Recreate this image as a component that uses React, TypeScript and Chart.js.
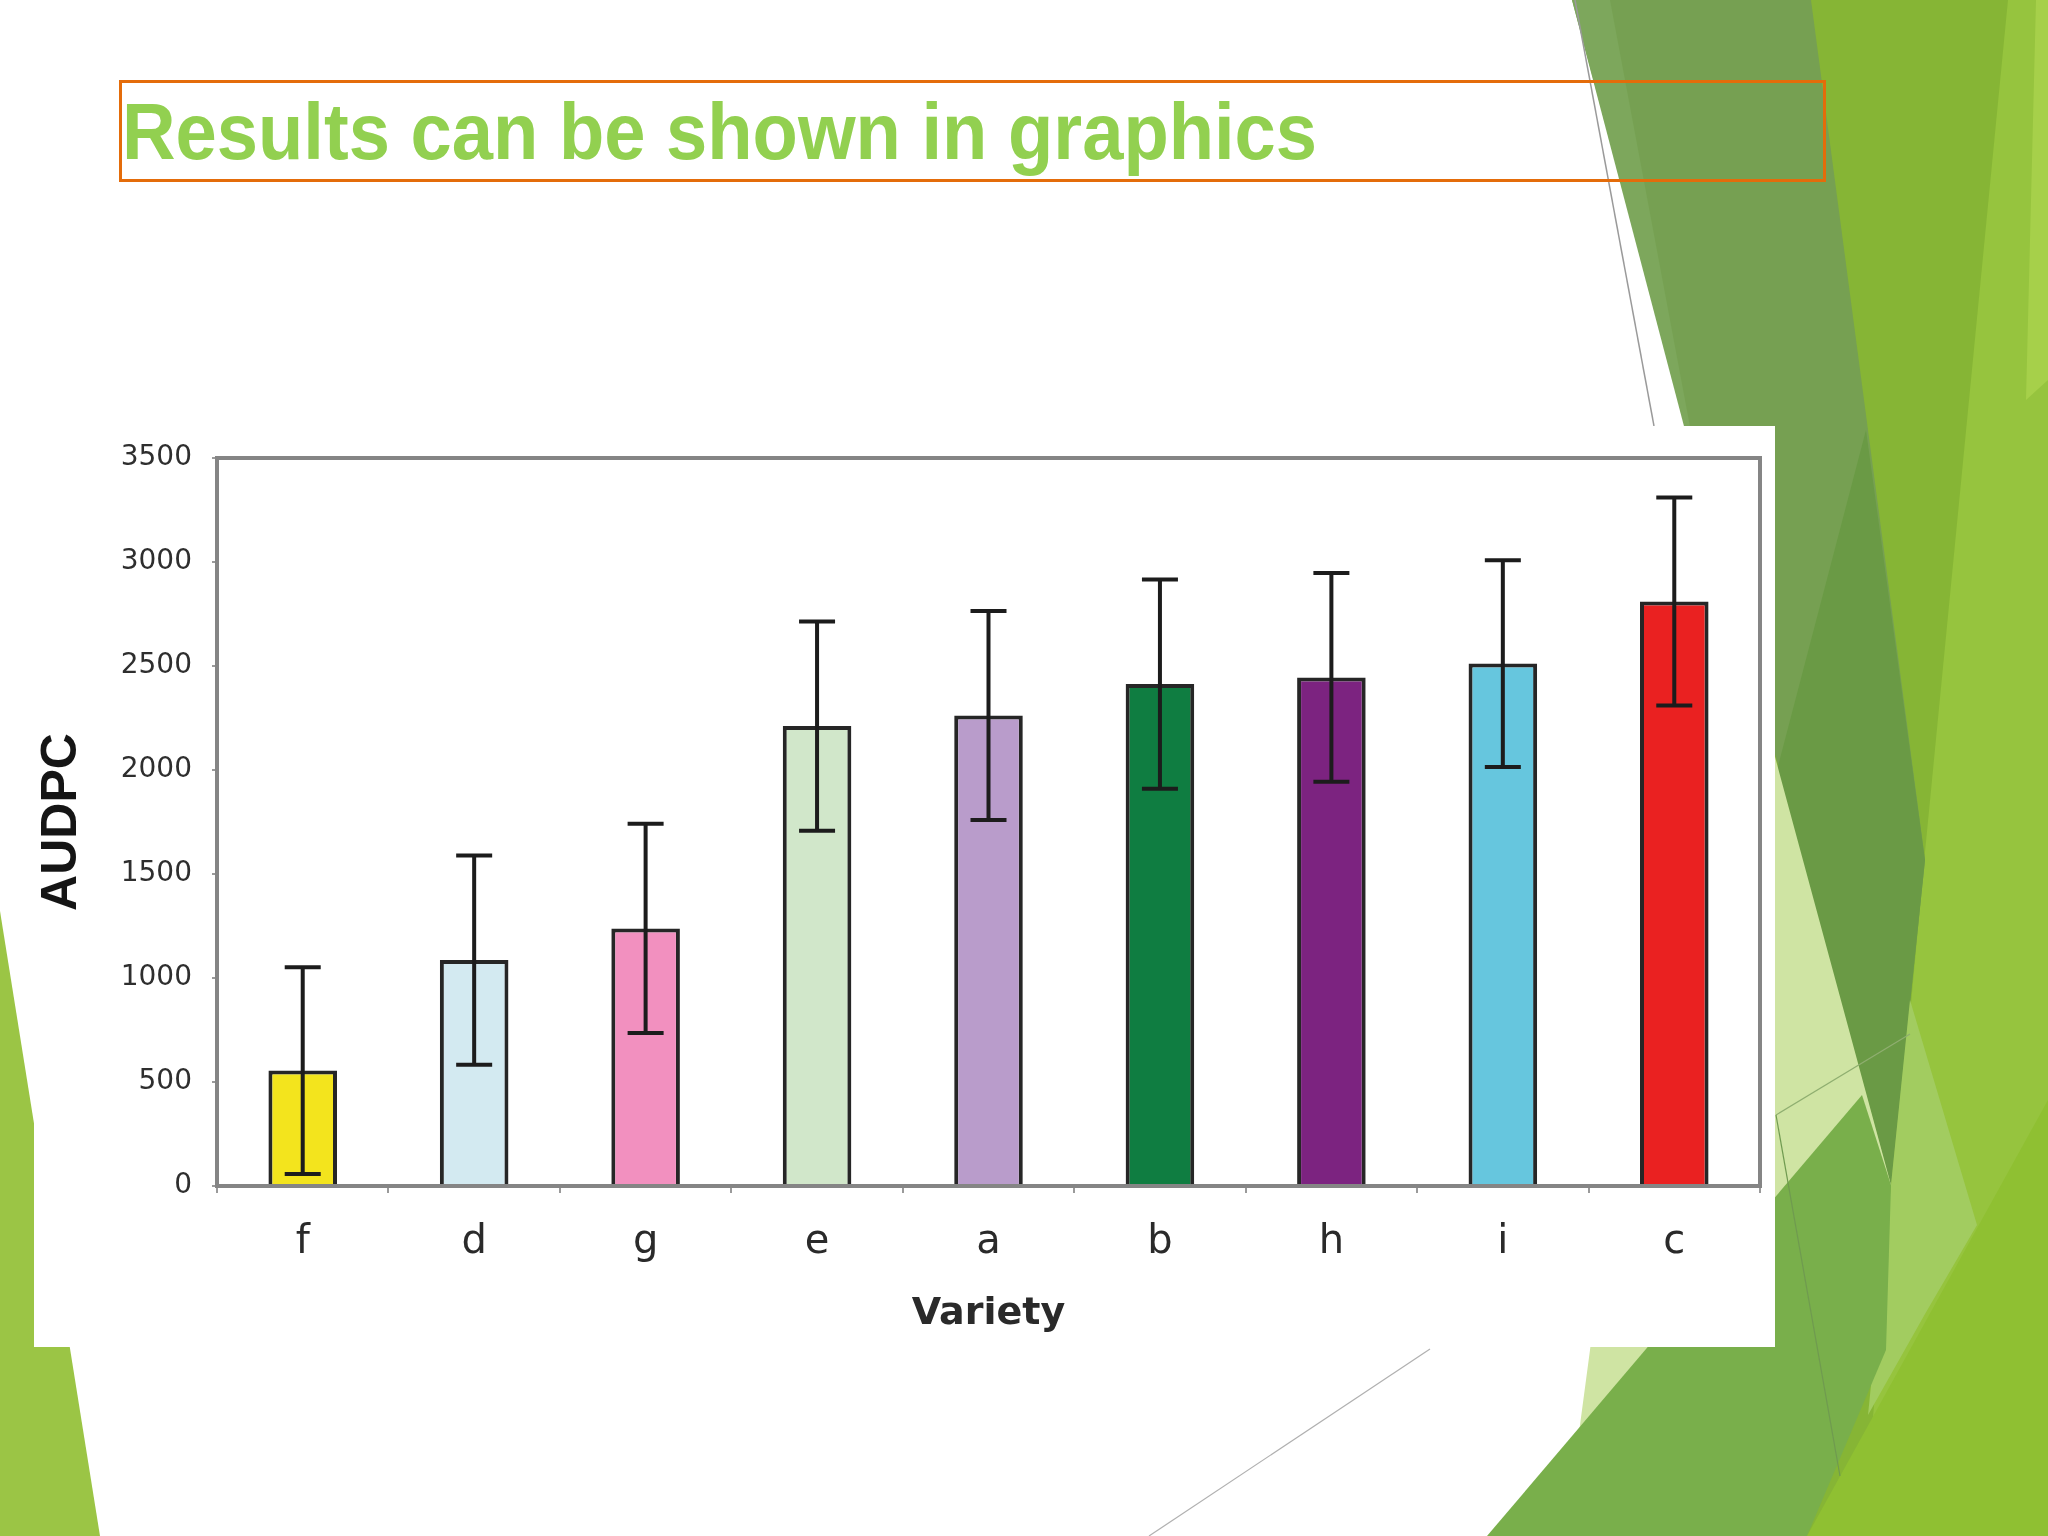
import React, { useEffect, useRef } from "react";
import { Chart, registerables } from "chart.js";

Chart.register(...registerables);

// ---- data ----
const categories = ["f", "d", "g", "e", "a", "b", "h", "i", "c"];
const audpcMeans = [555, 1086, 1238, 2211, 2262, 2413, 2445, 2512, 2810];
const audpcErrors = [497, 503, 503, 503, 502, 503, 502, 497, 500];
const barColors = [
  "#F3E41D",
  "#D3EAF1",
  "#F290BF",
  "#D1E7CA",
  "#B99CCB",
  "#0F7D41",
  "#7C2380",
  "#66C6DE",
  "#EA2121",
];
const yMin = 0;
const yMax = 3500;
const yStep = 500;
const titleText = "Results can be shown in graphics";
const xTitle = "Variety";
const yTitle = "AUDPC";

const errorBarPlugin = {
  id: "errorBarsAndFrame",
  afterDatasetsDraw(chart: any) {
    const ctx = chart.ctx;
    const yScale = chart.scales.y;
    const meta = chart.getDatasetMeta(0);
    ctx.save();
    ctx.strokeStyle = "#1c1c1c";
    ctx.lineWidth = 4;
    meta.data.forEach((bar: any, i: number) => {
      const v = audpcMeans[i];
      const e = audpcErrors[i];
      const x = bar.x;
      const yTop = yScale.getPixelForValue(v + e);
      const yBot = yScale.getPixelForValue(v - e);
      const cap = 18;
      ctx.beginPath();
      ctx.moveTo(x, yTop);
      ctx.lineTo(x, yBot);
      ctx.moveTo(x - cap, yTop);
      ctx.lineTo(x + cap, yTop);
      ctx.moveTo(x - cap, yBot);
      ctx.lineTo(x + cap, yBot);
      ctx.stroke();
    });
    const a = chart.chartArea;
    ctx.strokeStyle = "#858585";
    ctx.lineWidth = 4;
    ctx.strokeRect(a.left, a.top, a.right - a.left, a.bottom - a.top);
    ctx.restore();
  },
};

function BarChart() {
  const ref = useRef<HTMLCanvasElement | null>(null);
  useEffect(() => {
    if (!ref.current) return;
    const chart = new Chart(ref.current, {
      type: "bar",
      data: {
        labels: categories,
        datasets: [
          {
            data: audpcMeans,
            backgroundColor: barColors,
            borderColor: "#262626",
            borderWidth: 4,
            barPercentage: 0.4,
            categoryPercentage: 1.0,
          },
        ],
      },
      options: {
        responsive: false,
        animation: false,
        devicePixelRatio: 1,
        layout: { padding: { top: 32, right: 15, left: 0, bottom: 0 } },
        plugins: {
          legend: { display: false },
          tooltip: { enabled: false },
        },
        scales: {
          x: {
            grid: {
              display: true,
              drawOnChartArea: false,
              drawTicks: true,
              tickLength: 7,
              color: "#9a9a9a",
              lineWidth: 2,
              offset: true,
            },
            border: { display: false },
            ticks: {
              color: "#2a2a2a",
              font: { family: "DejaVu Sans", size: 40 },
              padding: 26,
            },
            title: {
              display: true,
              text: xTitle,
              color: "#2a2a2a",
              font: { family: "DejaVu Sans", size: 38, weight: "bold" },
              padding: { top: 0, bottom: 10 },
            },
            afterFit: (s: any) => {
              s.height = 161;
              s.paddingLeft = 0;
              s.paddingRight = 0;
            },
          },
          y: {
            min: yMin,
            max: yMax,
            grid: {
              drawOnChartArea: false,
              drawTicks: true,
              tickLength: 5,
              color: "#9a9a9a",
              lineWidth: 2,
            },
            border: { display: false },
            ticks: {
              stepSize: yStep,
              callback: (v: any) => String(v),
              color: "#2e2e2e",
              font: { family: "DejaVu Sans", size: 28 },
              padding: 20,
            },
            title: {
              display: true,
              text: yTitle,
              color: "#151515",
              font: { family: "Liberation Sans", size: 50, weight: "bold", lineHeight: 1 },
              padding: { top: 3, bottom: 0 },
            },
            afterFit: (s: any) => {
              s.width = 183;
              s.paddingTop = 0;
              s.paddingBottom = 0;
            },
          },
        },
      } as any,
      plugins: [errorBarPlugin],
    });
    return () => chart.destroy();
  }, []);
  return <canvas ref={ref} width={1741} height={921} style={{ display: "block", width: 1741, height: 921 }} />;
}

function Background() {
  const poly = (pts: number[][]) => pts.map((p) => p.join(",")).join(" ");
  return (
    <svg
      width={2048}
      height={1536}
      style={{ position: "absolute", left: 0, top: 0 }}
      viewBox="0 0 2048 1536"
    >
      <rect x={0} y={0} width={2048} height={1536} fill="#ffffff" />
      {/* left wedge */}
      <polygon points={poly([[0, 911], [100, 1536], [0, 1536]])} fill="#9BC545" />
      {/* right decorations */}
      <polygon points={poly([[1811, 0], [2048, 0], [2048, 1536], [1600, 1536]])} fill="#86B535" />
      <polygon points={poly([[2008, 0], [2048, 0], [2048, 1536], [1862, 1536], [1925, 852]])} fill="#96C43E" />
      <polygon points={poly([[2036, 0], [2048, 0], [2048, 380], [2026, 400]])} fill="#A6D04A" />
      <polygon points={poly([[1572, 0], [1811, 0], [1925, 860], [1891, 1185]])} fill="#76A052" />
      <polygon points={poly([[1572, 0], [1610, 0], [1700, 480], [1685, 430]])} fill="#7DA75C" />
      <polygon points={poly([[1866, 430], [1925, 860], [1891, 1185], [1777, 770]])} fill="#6A9A45" />
      <polygon points={poly([[1700, 480], [1891, 1185], [1578, 1440], [1590, 1350]])} fill="#CFE4A3" />
      <polygon points={poly([[1910, 1000], [1977, 1225], [1925, 1314], [1868, 1415], [1891, 1185]])} fill="#A2CC60" />
      <polygon points={poly([[1487, 1536], [1862, 1095], [1891, 1185], [1886, 1350], [1807, 1536]])} fill="#79AF4B" />
      <polygon points={poly([[1807, 1536], [2048, 1100], [2048, 1536]])} fill="#8FC032" />
      {/* thin lines */}
      <line x1={1575} y1={0} x2={1654} y2={426} stroke="#9a9a9a" strokeWidth={1.5} />
      <line x1={1149} y1={1536} x2={1430} y2={1349} stroke="#b0b0b0" strokeWidth={1.2} />
      <line x1={1776} y1={1115} x2={1910} y2={1034} stroke="#8fae70" strokeWidth={1.2} />
      <line x1={1776} y1={1115} x2={1840} y2={1476} stroke="#6f9a50" strokeWidth={1.2} />
    </svg>
  );
}

export default function App() {
  return (
    <div
      style={{
        position: "absolute",
        left: 0,
        top: 0,
        width: 2048,
        height: 1536,
        overflow: "hidden",
        background: "#ffffff",
      }}
    >
      <Background />
      <div
        style={{
          position: "absolute",
          left: 119,
          top: 80,
          width: 1707,
          height: 102,
          boxSizing: "border-box",
          border: "3px solid #E46C0A",
        }}
      />
      <div
        style={{
          position: "absolute",
          left: 122,
          top: 92,
          fontFamily: "'Liberation Sans', Arial, sans-serif",
          fontWeight: "bold",
          fontSize: 80,
          lineHeight: "80px",
          color: "#92D050",
          whiteSpace: "nowrap",
          transform: "scaleX(0.927)",
          transformOrigin: "left top",
          letterSpacing: 0,
        }}
      >
        {titleText}
      </div>
      <div
        style={{
          position: "absolute",
          left: 34,
          top: 426,
          width: 1741,
          height: 921,
          background: "#ffffff",
        }}
      >
        <BarChart />
      </div>
    </div>
  );
}
